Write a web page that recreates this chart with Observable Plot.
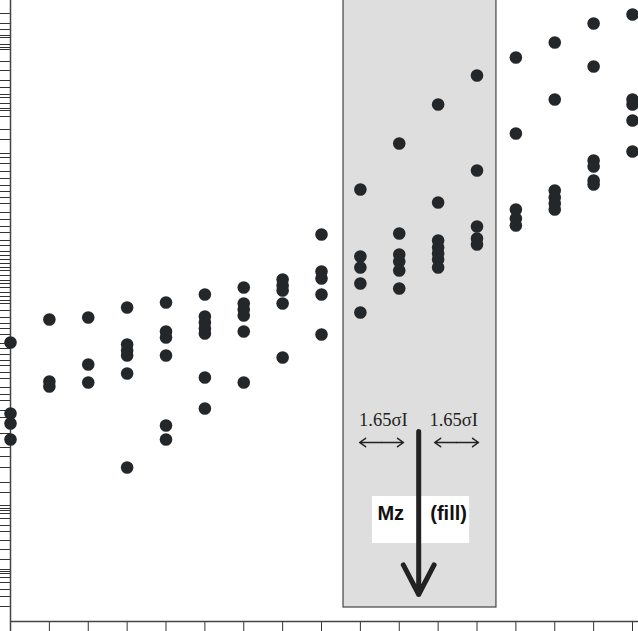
<!DOCTYPE html>
<html>
<head>
<meta charset="utf-8">
<script src="https://cdn.jsdelivr.net/npm/d3@7"></script>
<script src="https://cdn.jsdelivr.net/npm/@observablehq/plot@0.6"></script>
<style>
  html, body { margin: 0; padding: 0; background: #fff; }
  #chart svg { display: block; }
</style>
</head>
<body>
<div id="chart"></div>
<script>
// Columns (x positions, equally spaced samples)
const columns = [0,1,2,3,4,5,6,7,8,9,10,11,12,13,14,15,16];

const values = [
  [27.9, 20.8, 19.8, 18.2],
  [30.2, 24.0, 23.5],
  [30.4, 25.7, 23.9],
  [31.4, 27.7, 27.1, 26.6, 24.8, 15.4],
  [31.9, 29.0, 28.4, 26.6, 19.6, 18.2],
  [32.7, 30.5, 29.9, 29.3, 28.8, 24.4, 21.3],
  [33.4, 31.8, 31.2, 30.6, 29.0, 23.9],
  [34.2, 33.6, 33.1, 31.8, 26.4],
  [38.7, 35.0, 34.3, 32.7, 28.7],
  [43.2, 36.5, 35.4, 33.8, 30.9],
  [47.8, 38.8, 36.7, 36.0, 35.1, 33.3],
  [51.7, 41.9, 38.1, 37.4, 36.8, 36.2, 35.4],
  [54.6, 45.1, 39.5, 38.3, 37.7],
  [56.4, 48.8, 41.2, 40.3, 39.6],
  [57.9, 52.2, 43.1, 42.4, 41.8, 41.2],
  [59.8, 55.5, 46.1, 45.5, 44.1, 43.7],
  [60.7, 52.2, 51.7, 50.1, 47.0]
];

// Irregular left-axis tick values
const yTicks = [60.8, 59.8, 59.2, 58.6, 58.4, 57.7, 57.4, 57.2, 56.0, 55.1, 54.1, 53.4,
  52.7, 52.4, 51.8, 51.3, 51.1, 50.5, 49.2, 48.2, 46.8, 46.4, 45.8, 45.0, 44.3, 43.6,
  43.0, 42.4, 41.8, 40.9, 40.2, 39.5, 38.9, 38.1, 37.6, 37.0, 36.6, 36.2, 35.8, 35.4,
  35.1, 34.6, 34.1, 33.8, 33.4, 32.9, 32.5, 32.1, 31.8, 31.1, 30.4, 29.8, 29.3, 28.7,
  27.8, 27.3, 26.7, 26.1, 25.6, 24.9, 24.3, 23.4, 22.7, 22.1, 21.1, 20.4, 18.8, 17.4,
  16.5, 15.4, 13.9, 12.9, 11.6, 11.3, 11.1, 10.8, 10.3, 9.6, 9.0, 8.1, 7.2, 6.2, 5.2,
  5.0, 4.8, 4.4, 3.9, 3.2, 2.5, 1.5];

// Annotation values
const band = {x1: 8.566, x2: 12.5, y1: 1.4, y2: 62.2};
const mzArrow = {x: 10.5, y1: 19.0, y2: 2.7};
const sigmaY = 17.9;
const sigmaArrows = [
  {x1: 9.545, x2: 8.98}, {x1: 9.545, x2: 10.11},
  {x1: 11.475, x2: 10.91}, {x1: 11.475, x2: 12.04}
];
const sigmaLabels = [{x: 9.59, y: 20.1, text: "1.65σI"}, {x: 11.40, y: 20.1, text: "1.65σI"}];
const boxLabel = {x1: 9.31, x2: 11.81, y1: 7.8, y2: 12.5};
const wordLabels = [{x: 9.78, y: 10.8, text: "Mz"}, {x: 11.27, y: 10.8, text: "(fill)"}];

const points = columns.flatMap((c, i) => values[i].map(v => ({x: c, y: v})));

const chart = Plot.plot({
  width: 638,
  height: 631,
  marginTop: 0,
  marginRight: 0,
  marginBottom: 10,
  marginLeft: 10,
  style: {color: "#333", background: "#fff", overflow: "visible"},
  x: {domain: [0, 16.154], ticks: columns, tickSize: 10, tickFormat: () => "", label: null},
  y: {domain: [0, 62.1], ticks: yTicks, tickSize: 10, tickFormat: () => "", label: null},
  marks: [
    Plot.rect([band], {x1: "x1", x2: "x2", y1: "y1", y2: "y2", fill: "#dedede", stroke: "#444", strokeWidth: 1.2}),
    Plot.ruleX([0], {y1: -1.0, y2: 62.1, stroke: "#444", strokeWidth: 1.5}),
    Plot.ruleY([0], {stroke: "#444", strokeWidth: 1.5}),
    Plot.dot(points, {x: "x", y: "y", r: 6.3, fill: "#24272a", stroke: "none"}),
    Plot.rect([boxLabel], {x1: "x1", x2: "x2", y1: "y1", y2: "y2", fill: "#fff"}),
    Plot.text(wordLabels, {x: "x", y: "y", text: "text", fontFamily: "Liberation Sans, Arial, sans-serif", fontWeight: "bold", fontSize: 20, fill: "#111"}),
    Plot.text(sigmaLabels, {x: "x", y: "y", text: "text", fontFamily: "Liberation Serif, Times New Roman, serif", fontSize: 18.5, fill: "#222"}),
    Plot.arrow(sigmaArrows, {x1: "x1", x2: "x2", y1: () => sigmaY, y2: () => sigmaY, stroke: "#222", strokeWidth: 1.5, headLength: 9, headAngle: 70}),
    Plot.arrow([mzArrow], {x1: "x", x2: "x", y1: "y1", y2: "y2", stroke: "#222", strokeWidth: 5, headLength: 10, headAngle: 55})
  ]
});
document.getElementById("chart").appendChild(chart);
</script>
</body>
</html>
